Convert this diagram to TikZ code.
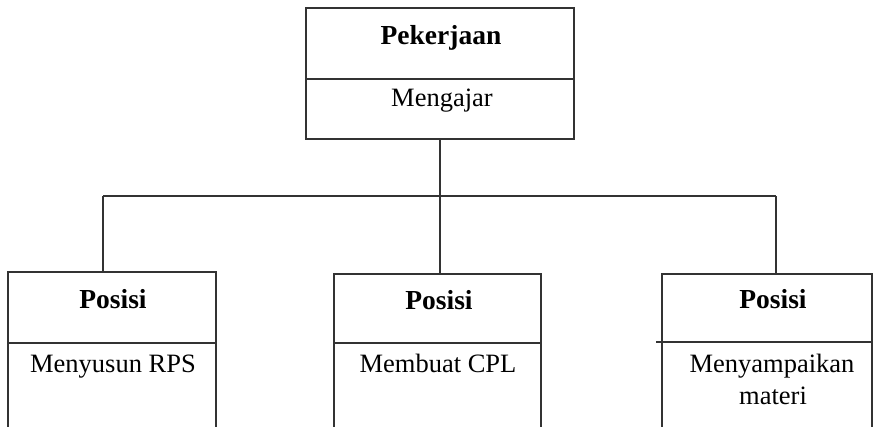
\documentclass[tikz,border=0pt]{standalone}
\usepackage{fontspec}
\setmainfont{Liberation Serif}
\begin{document}
\begin{tikzpicture}[x=1pt,y=-1pt,
  ln/.style={line width=1.2pt, draw=black!80},
  boxpart/.style={ln, rectangle, inner sep=0pt, outer sep=0pt},
  ttl/.style={font=\fontsize{27.5}{30}\selectfont\bfseries, anchor=base, inner sep=0pt},
  txt/.style={font=\fontsize{26.5}{32}\selectfont, anchor=base, inner sep=0pt, align=center}]
\useasboundingbox (0,0) rectangle (880,426);
% top box
\node[boxpart, minimum width=268pt, minimum height=71pt] (top) at (440,43.5) {};
\node[boxpart, minimum width=268pt, minimum height=60pt, anchor=north] (topbody) at (top.south) {};
\node[ttl] (toptitle) at (441,44) {Pekerjaan};
\node[txt] (toptext) at (442,106) {Mengajar};
% bottom headers
\node[boxpart, minimum width=208pt, minimum height=71pt] (lh) at (112,307.5) {};
\node[boxpart, minimum width=207pt, minimum height=69pt] (mh) at (437.5,308.5) {};
\node[boxpart, minimum width=210pt, minimum height=68pt] (rh) at (767,308) {};
% open bodies
\draw[ln] (lh.south west) -- ++(0,90) (lh.south east) -- ++(0,90);
\draw[ln] (mh.south west) -- ++(0,90) (mh.south east) -- ++(0,90);
\draw[ln] (rh.south west) -- ++(0,90) (rh.south east) -- ++(0,90);
\draw[ln] (rh.south west) -- ++(-6,0);
% texts
\node[ttl] (lt) at (113,308) {Posisi};
\node[ttl] (mt) at (439,309) {Posisi};
\node[ttl] (rt) at (773,308) {Posisi};
\node[txt] (lx) at (113,372) {Menyusun RPS};
\node[txt] (mx) at (438,372) {Membuat CPL};
\node[txt] (rx1) at (772,372) {Menyampaikan};
\node[txt] (rx2) at (773,404) {materi};
% connectors
\coordinate (busL) at (103,196);
\coordinate (busR) at (776,196);
\draw[ln] (busL) -- (busR);
\draw[ln] (topbody.south) -- (topbody.south |- busL);
\draw[ln] (busL) -- (busL |- lh.north);
\draw[ln] (mh.north -| topbody.south) -- (topbody.south |- busL);
\draw[ln] (busR) -- (busR |- rh.north);
\end{tikzpicture}
\end{document}
